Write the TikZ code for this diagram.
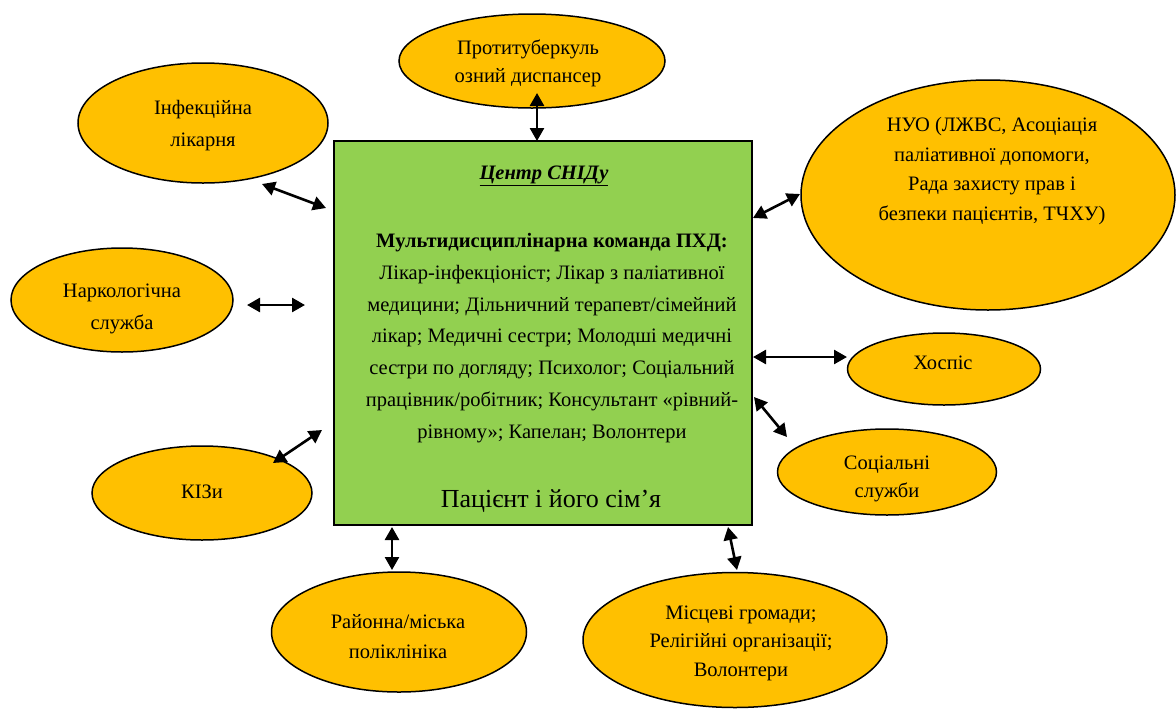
\documentclass[tikz,border=0pt]{standalone}
\usepackage{fontspec}
\setmainfont{Liberation Serif}
\usetikzlibrary{shapes.geometric,arrows.meta}
\definecolor{boxgreen}{HTML}{92D050}
\definecolor{ellfill}{HTML}{FFC000}
\tikzset{
  ell/.style={ellipse, draw=black, line width=1.5pt, fill=ellfill, inner sep=0pt},
  etext/.style={align=center, inner sep=0pt, font=\fontsize{20.5}{30}\selectfont},
  link/.style={line width=2.6pt, {Triangle[length=13pt,width=14pt]}-{Triangle[length=13pt,width=14pt]}},
}
\begin{document}
\begin{tikzpicture}[x=1pt,y=-1pt]
\useasboundingbox (0,0) rectangle (1176,713);
% central box
\node[draw=black, line width=2pt, fill=boxgreen, minimum width=418pt, minimum height=384pt, inner sep=0pt] (center) at (543,333) {};
\node[anchor=base, inner sep=0pt, font=\fontsize{20.5}{24}\selectfont\bfseries\itshape] (title) at (544,179) {\underline{Центр СНІДу}};
\node[align=center, inner sep=0pt, font=\fontsize{20.5}{31.7}\selectfont] (team) at (552,338) {\textbf{Мультидисциплінарна команда ПХД:}\\Лікар-інфекціоніст; Лікар з паліативної\\медицини; Дільничний терапевт/сімейний\\лікар; Медичні сестри; Молодші медичні\\сестри по догляду; Психолог; Соціальний\\працівник/робітник; Консультант «рівний-\\рівному»; Капелан; Волонтери};
\node[anchor=base, inner sep=0pt, font=\fontsize{26}{30}\selectfont] (patient) at (551,507) {Пацієнт і його сім’я};
% ellipses
\node[ell, minimum width=266pt, minimum height=94pt] (tb) at (532,61) {};
\node[etext, font=\fontsize{20.5}{28}\selectfont] (tbt) at (528,63) {Протитуберкуль\\озний диспансер};
\node[ell, minimum width=250pt, minimum height=120pt] (inf) at (203,123) {};
\node[etext, font=\fontsize{20.5}{32}\selectfont] (inft) at (203,126) {Інфекційна\\лікарня};
\node[ell, minimum width=222pt, minimum height=104pt] (nar) at (122,300) {};
\node[etext, font=\fontsize{20.5}{32}\selectfont] (nart) at (122,309) {Наркологічна\\служба};
\node[ell, minimum width=220pt, minimum height=94pt] (kiz) at (202,493) {};
\node[etext] (kizt) at (202,492) {КІЗи};
\node[ell, minimum width=255pt, minimum height=120pt] (ray) at (399,632) {};
\node[etext] (rayt) at (398,637) {Районна/міська\\поліклініка};
\node[ell, minimum width=304pt, minimum height=135pt] (gro) at (735,640) {};
\node[etext, font=\fontsize{20.5}{28.5}\selectfont] (grot) at (741,643) {Місцеві громади;\\Релігійні організації;\\Волонтери};
\node[ell, minimum width=219pt, minimum height=86pt] (soc) at (887,472) {};
\node[etext, font=\fontsize{20.5}{28}\selectfont] (soct) at (887,479) {Соціальні\\служби};
\node[ell, minimum width=193pt, minimum height=72pt] (hos) at (944,369) {};
\node[etext] (host) at (943,363) {Хоспіс};
\node[ell, minimum width=374pt, minimum height=230pt] (nuo) at (988,195) {};
\node[etext, font=\fontsize{20.5}{29.5}\selectfont] (nuot) at (992,171) {НУО (ЛЖВС, Асоціація\\паліативної допомоги,\\Рада захисту прав і\\безпеки пацієнтів, ТЧХУ)};
% connector end points
\coordinate (a1) at (537,93);  \coordinate (b1) at (537,141);
\coordinate (a2) at (262,184); \coordinate (b2) at (326,208);
\coordinate (a3) at (247,305); \coordinate (b3) at (305,305);
\coordinate (a4) at (273,463); \coordinate (b4) at (322,430);
\coordinate (a5) at (392,527); \coordinate (b5) at (392,570);
\coordinate (a6) at (728,527); \coordinate (b6) at (737,570);
\coordinate (a7) at (754,397); \coordinate (b7) at (787,437);
\coordinate (a8) at (753,357); \coordinate (b8) at (847,357);
\coordinate (a9) at (753,218); \coordinate (b9) at (800,194);
\foreach \i in {1,...,9} {\draw[link] (a\i) -- (b\i);}
\end{tikzpicture}
\end{document}
